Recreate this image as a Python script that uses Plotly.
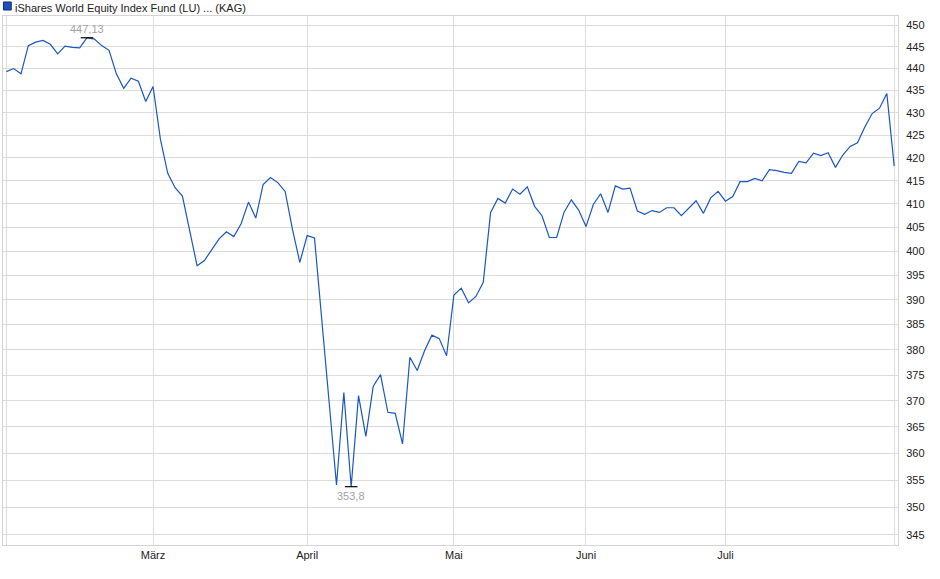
import math
import plotly.graph_objects as go

# Fund name and daily prices (Feb - Jul), one value per trading day
fund_name = "iShares World Equity Index Fund (LU) ... (KAG)"

prices = [
    439.3, 440.0, 438.8, 445.3, 446.1, 446.5, 445.6, 443.4, 445.2, 444.9,
    444.8, 447.13, 446.8, 445.3, 444.2, 438.8, 435.5, 437.8, 437.1, 432.5,
    435.9, 424.1, 416.6, 413.5, 411.7, 404.3, 397.0, 398.1, 400.3, 402.6,
    404.1, 403.1, 405.8, 410.4, 407.0, 414.2, 415.7, 414.6, 412.7, 404.6,
    397.7, 403.3, 402.8, 385.5, 370.4, 354.1, 371.6, 353.8, 371.0, 363.2,
    372.8, 375.1, 367.8, 367.6, 361.8, 378.5, 375.9, 379.8, 382.9, 382.2,
    378.8, 391.0, 392.4, 389.4, 390.7, 393.6, 408.2, 411.2, 410.2, 413.2,
    412.1, 413.7, 409.5, 407.5, 402.9, 402.9, 408.2, 410.9, 408.7, 405.2,
    409.9, 412.2, 408.2, 413.9, 413.2, 413.4, 408.5, 407.8, 408.6, 408.2,
    409.2, 409.2, 407.5, 409.1, 410.7, 408.0, 411.3, 412.7, 410.6, 411.6,
    414.8, 414.8, 415.5, 415.0, 417.4, 417.2, 416.8, 416.6, 419.2, 418.9,
    421.0, 420.5, 421.1, 417.9, 420.6, 422.5, 423.3, 426.8, 429.8, 431.0,
    434.3, 418.2,
]
days = list(range(len(prices)))

# month starts (trading-day index) and their labels
month_ticks = [0, 20, 41, 61, 79, 98, len(prices) - 1]
month_labels = ["", "März", "April", "Mai", "Juni", "Juli", ""]

y_ticks = list(range(345, 451, 5))

hi = max(prices)
lo = min(prices)
i_hi = prices.index(hi)
i_lo = prices.index(lo)

font = "Arial, Liberation Sans, sans-serif"
grid = "#dcdcdc"

fig = go.Figure()

fig.add_trace(go.Scatter(
    x=days, y=prices, mode="lines", name=fund_name,
    line=dict(color="#1a56c4", width=1.2),
    showlegend=False,
))

# small black markers at high / low
fig.add_trace(go.Scatter(
    x=[i_hi, i_lo], y=[hi, lo], mode="markers",
    marker=dict(symbol="line-ew", size=9, line=dict(color="#000000", width=1.2)),
    showlegend=False, hoverinfo="skip",
))

# annotations on a log axis take log10 values
fig.add_annotation(x=i_hi, y=math.log10(hi), text=f"{hi}".replace(".", ","), showarrow=False,
                   yanchor="bottom", yshift=1, font=dict(size=11, color="#a3a3a3", family=font))
fig.add_annotation(x=i_lo, y=math.log10(lo), text=f"{lo}".replace(".", ","), showarrow=False,
                   yanchor="top", yshift=-1, font=dict(size=11, color="#a3a3a3", family=font))

# legend-like title at the top left
fig.add_annotation(xref="paper", yref="paper", x=0, y=1, xanchor="left", yanchor="bottom",
                   xshift=10, yshift=0, text=fund_name, showarrow=False,
                   font=dict(size=11, color="#222222", family=font))
fig.add_shape(type="rect", xref="paper", yref="paper",
              x0=0.0005, x1=0.0092, y0=1.0113, y1=1.0265,
              fillcolor="#1f4fbf", line=dict(color="#0d2a6b", width=1))

fig.update_layout(
    width=940, height=579,
    margin=dict(l=3, r=42, t=16, b=34),
    paper_bgcolor="white", plot_bgcolor="white",
    font=dict(family=font, size=11, color="#222222"),
    showlegend=False,
)

fig.update_xaxes(
    range=[-0.45, 121.52],
    tickvals=month_ticks, ticktext=month_labels,
    showgrid=True, gridcolor=grid, gridwidth=1,
    showline=True, mirror=True, linecolor="#d4d4d4", linewidth=1,
    zeroline=False, ticks="",
    tickfont=dict(size=11, color="#222222"),
)
fig.update_yaxes(
    type="log", range=[2.53555, 2.65536],
    side="right", tickvals=y_ticks, ticktext=[str(v) for v in y_ticks],
    showgrid=True, gridcolor=grid, gridwidth=1,
    showline=True, mirror=True, linecolor="#d4d4d4", linewidth=1,
    zeroline=False, ticks="", ticklabelstandoff=5,
    tickfont=dict(size=11, color="#222222"),
)

# remove the default page margin so the figure sits at the window origin
fig.write_html("out.html", config={"displayModeBar": False},
               post_script="document.body.style.margin='0';")
